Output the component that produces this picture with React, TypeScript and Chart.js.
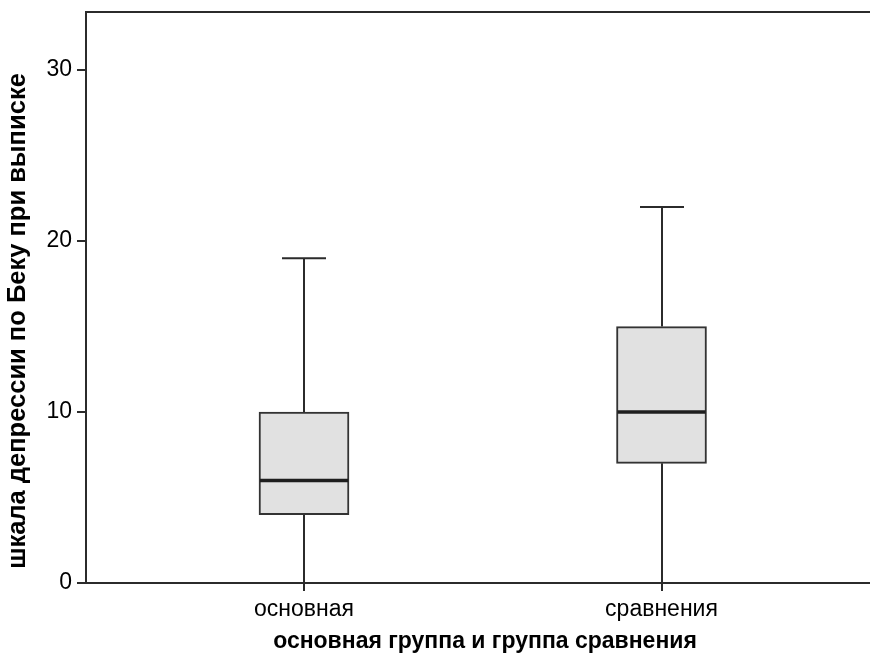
import { useEffect, useRef } from 'react';
import { Chart, registerables } from 'chart.js';

Chart.register(...registerables);

const categories = ['основная', 'сравнения'];
const positions = [1, 2];
const whiskerLow = [0, 0];
const q1 = [4, 7];
const median = [6, 10];
const q3 = [10, 15];
const whiskerHigh = [19, 22];
const yTicks = [0, 10, 20, 30];
const yTitle = 'шкала депрессии по Беку при выписке';
const xTitle = 'основная группа и группа сравнения';

const FONT = '"Liberation Sans", Arial, Helvetica, sans-serif';
const LINE = '#2b2b2b';
const BOX_PX = 90;
const CAP_HALF = 22;

const boxPlugin = {
  id: 'boxWhiskers',
  beforeDatasetsDraw(chart: any) {
    const { ctx } = chart;
    const xs = chart.scales.x;
    const ys = chart.scales.y;
    ctx.save();
    ctx.strokeStyle = LINE;
    ctx.lineWidth = 2;
    positions.forEach((p, i) => {
      const x = Math.round(xs.getPixelForValue(p));
      const yLo = ys.getPixelForValue(whiskerLow[i]);
      const yQ1 = ys.getPixelForValue(q1[i]);
      const yQ3 = ys.getPixelForValue(q3[i]);
      const yHi = ys.getPixelForValue(whiskerHigh[i]);
      ctx.beginPath();
      ctx.moveTo(x, yQ3);
      ctx.lineTo(x, yHi);
      ctx.moveTo(x, yQ1);
      ctx.lineTo(x, yLo);
      ctx.moveTo(x - CAP_HALF, yHi);
      ctx.lineTo(x + CAP_HALF, yHi);
      ctx.moveTo(x - CAP_HALF, yLo);
      ctx.lineTo(x + CAP_HALF, yLo);
      ctx.stroke();
    });
    ctx.restore();
  },
  afterDatasetsDraw(chart: any) {
    const { ctx, chartArea } = chart;
    const xs = chart.scales.x;
    const ys = chart.scales.y;
    ctx.save();
    ctx.strokeStyle = '#1e1e1e';
    ctx.lineWidth = 3.5;
    positions.forEach((p, i) => {
      const x = xs.getPixelForValue(p);
      const y = ys.getPixelForValue(median[i]);
      ctx.beginPath();
      ctx.moveTo(x - BOX_PX / 2 + 1, y);
      ctx.lineTo(x + BOX_PX / 2 - 1, y);
      ctx.stroke();
    });
    ctx.strokeStyle = LINE;
    ctx.lineWidth = 2;
    ctx.beginPath();
    ctx.moveTo(chartArea.left, chartArea.top);
    ctx.lineTo(chartArea.right, chartArea.top);
    ctx.stroke();
    ctx.restore();
  },
  afterDraw(chart: any) {
    const { ctx } = chart;
    ctx.save();
    ctx.fillStyle = '#000';
    ctx.textAlign = 'center';
    ctx.textBaseline = 'alphabetic';
    // x-axis title
    ctx.font = `bold 23px ${FONT}`;
    ctx.fillText(xTitle, 485, 648);
    // y-axis title (rotated)
    ctx.translate(25, 321);
    ctx.rotate(-Math.PI / 2);
    ctx.font = `bold 25.5px ${FONT}`;
    ctx.fillText(yTitle, 0, 0);
    ctx.restore();
  },
};

export default function App() {
  const ref = useRef<HTMLCanvasElement | null>(null);

  useEffect(() => {
    if (!ref.current) return;
    Chart.defaults.font.family = FONT;
    const chart = new Chart(ref.current, {
      type: 'bar',
      data: {
        datasets: [
          {
            data: positions.map((p, i) => ({ x: p, y: [q1[i], q3[i]] })) as any,
            backgroundColor: '#e1e1e1',
            borderColor: '#333333',
            borderWidth: 2,
            borderSkipped: false,
            barThickness: BOX_PX,
            grouped: false,
          } as any,
        ],
      },
      options: {
        animation: false,
        responsive: true,
        maintainAspectRatio: false,
        layout: { padding: { top: 12, left: 0, right: 0, bottom: 0 } },
        plugins: {
          legend: { display: false },
          tooltip: { enabled: false },
        },
        scales: {
          x: {
            type: 'linear',
            offset: false,
            min: 0.3902,
            max: 2.5832,
            afterBuildTicks: (s: any) => {
              s.ticks = positions.map((v) => ({ value: v }));
            },
            afterFit: (s: any) => {
              s.height = 75;
              s.paddingLeft = 0;
              s.paddingRight = 0;
            },
            ticks: {
              autoSkip: false,
              maxRotation: 0,
              color: '#000',
              padding: 5,
              font: { family: FONT, size: 23 },
              callback: (_v: any, i: number) => categories[i] ?? '',
            },
            grid: {
              offset: false,
              drawOnChartArea: false,
              drawTicks: true,
              tickLength: 8,
              color: LINE,
              lineWidth: 2,
            },
            border: { display: true, color: LINE, width: 2 },
            title: { display: false, text: xTitle },
          },
          y: {
            min: 0,
            max: 33.4,
            afterBuildTicks: (s: any) => {
              s.ticks = yTicks.map((v) => ({ value: v }));
            },
            afterFit: (s: any) => {
              s.width = 86;
              s.paddingTop = 0;
              s.paddingBottom = 0;
            },
            ticks: {
              color: '#000',
              padding: 5,
              font: { family: FONT, size: 23 },
            },
            grid: {
              drawOnChartArea: false,
              drawTicks: true,
              tickLength: 9,
              color: LINE,
              lineWidth: 2,
            },
            border: { display: true, color: LINE, width: 2 },
            title: { display: false, text: yTitle },
          },
        },
      } as any,
      plugins: [boxPlugin],
    });
    return () => chart.destroy();
  }, []);

  return (
    <div style={{ position: 'fixed', left: 0, top: 0, width: '870px', height: '658px', background: '#fff' }}>
      <canvas ref={ref} />
    </div>
  );
}
